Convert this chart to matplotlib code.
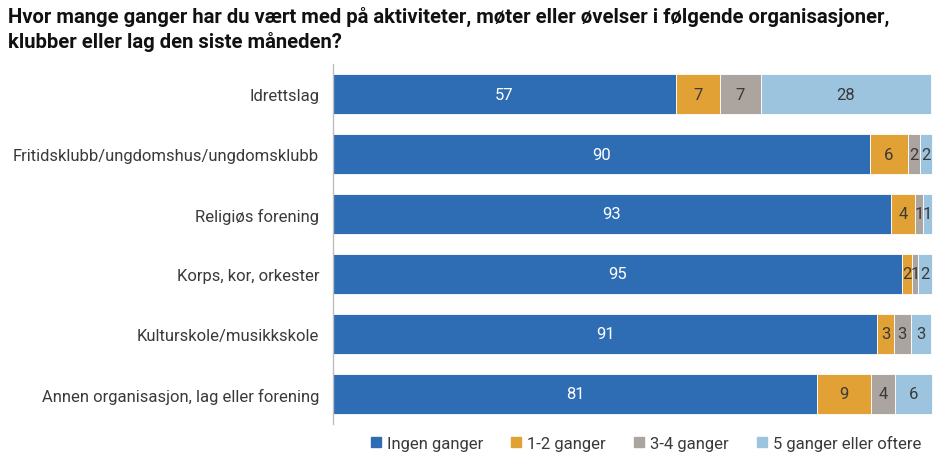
import matplotlib.pyplot as plt
from matplotlib.lines import Line2D
import numpy as np

categories = ["Idrettslag", "Fritidsklubb/ungdomshus/ungdomsklubb", "Religiøs forening",
              "Korps, kor, orkester", "Kulturskole/musikkskole",
              "Annen organisasjon, lag eller forening"]
series_names = ["Ingen ganger", "1-2 ganger", "3-4 ganger", "5 ganger eller oftere"]
# percent shares (labels show them rounded)
ingen = [57.2, 89.5, 93.0, 94.8, 90.7, 80.7]
en_to = [7.3, 6.3, 4.0, 1.7, 2.8, 9.0]
tre_fire = [6.8, 2.0, 1.4, 1.0, 2.8, 4.0]
fem_pluss = [28.4, 2.1, 1.4, 2.3, 3.4, 6.1]

colors = ["#2e6db4", "#e1a134", "#aca49f", "#9dc4de"]
text_colors = ["white", "#3a3a3a", "#3a3a3a", "#3a3a3a"]

title = ("Hvor mange ganger har du vært med på aktiviteter, møter eller øvelser i følgende organisasjoner,\n"
         "klubber eller lag den siste måneden?")

plt.rcParams['font.family'] = ['Roboto', 'DejaVu Sans']

fig = plt.figure(figsize=(9.43, 4.64), dpi=100)
ax = fig.add_axes([333 / 943, 1 - 425 / 464, 600 / 943, 360 / 464])

y = np.arange(len(categories))
left = np.zeros(len(categories))
for vals, col, tcol, name in zip([ingen, en_to, tre_fire, fem_pluss], colors, text_colors, series_names):
    vals = np.array(vals, dtype=float)
    ax.barh(y, vals, left=left, height=0.667, color=col, edgecolor="white", linewidth=0.6, label=name)
    for yi, l, v in zip(y, left, vals):
        ax.text(l + v / 2, yi, f"{v:.0f}", ha="center", va="center", color=tcol, fontsize=12)
    left += vals

ax.set_xlim(0, 100)
ax.set_ylim(len(categories) - 0.5, -0.5)
ax.set_yticks(y)
ax.set_yticklabels(categories, fontsize=12, color="#3a3a3a")
ax.tick_params(axis="y", length=0, pad=10)
ax.set_xticks([])
for s in ["top", "right", "bottom"]:
    ax.spines[s].set_visible(False)
ax.spines["left"].set_color("#bdbdbd")
ax.spines["left"].set_linewidth(1)

fig.text(8 / 943, 1 - 7 / 464, title, ha="left", va="top", fontsize=14.6, fontweight="bold",
         color="#111111", linespacing=1.3)

handles = [Line2D([0], [0], marker="s", linestyle="", markersize=7, markerfacecolor=c,
                  markeredgecolor=c) for c in colors]
leg = fig.legend(handles, series_names, loc="center", bbox_to_anchor=(646 / 943, 1 - 444 / 464),
                 ncol=4, frameon=False, handlelength=0.6, handletextpad=0.35, columnspacing=1.7,
                 prop={'size': 12})
for t in leg.get_texts():
    t.set_color("#3a3a3a")

fig.savefig("out.png", dpi=100)
